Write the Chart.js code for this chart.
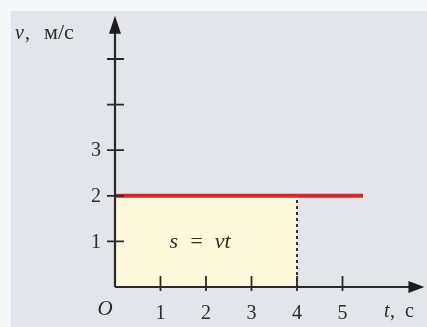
<!DOCTYPE html>
<html>
<head>
<meta charset="utf-8">
<script src="https://cdn.jsdelivr.net/npm/chart.js@4/dist/chart.umd.min.js"></script>
<style>
  html, body { margin: 0; padding: 0; background: #ffffff; }
  #wrap { width: 427px; height: 327px; position: relative; }
</style>
</head>
<body>
<div id="wrap"><canvas id="c" width="427" height="327"></canvas></div>
<script>
// Uniform motion: constant speed v = 2 m/s, distance s = v·t shaded up to t = 4 s
const speed = 2;              // м/с
const shadedUntil = 4;        // с
const lineEnd = 5.45;         // where the red speed line stops
const xTicks = [1, 2, 3, 4, 5];
const xTickLabels = ['1', '2', '3', '4', '5'];
const yTicks = [1, 2, 3, 4, 5];
const yTickLabels = ['1', '2', '3', '', ''];
const xAxisEnd = 6.8;         // arrow tip on the t axis
const yAxisEnd = 5.95;        // arrow tip on the v axis

const SERIF = '"Liberation Serif", "DejaVu Serif", serif';

const decor = {
  id: 'decor',
  beforeDraw(chart) {
    const { ctx, width, height } = chart;
    ctx.save();
    ctx.fillStyle = '#e2e6ea';
    ctx.fillRect(0, 0, width, height);
    ctx.fillStyle = '#f6f7f8';
    ctx.fillRect(0, 0, width, 11);
    ctx.fillRect(0, 0, 11, height);
    ctx.restore();
  },
  afterDatasetsDraw(chart) {
    const { ctx } = chart;
    const xs = chart.scales.x, ys = chart.scales.y;
    const x0 = xs.getPixelForValue(0), y0 = ys.getPixelForValue(0);
    const xEnd = xs.getPixelForValue(xAxisEnd), yEnd = ys.getPixelForValue(yAxisEnd);
    ctx.save();
    ctx.strokeStyle = '#2a2a2a';
    ctx.fillStyle = '#1e1e1e';
    ctx.lineWidth = 2.2;
    // axes
    ctx.beginPath();
    ctx.moveTo(x0, y0); ctx.lineTo(xEnd - 12, y0);
    ctx.moveTo(x0, y0); ctx.lineTo(x0, yEnd + 14);
    ctx.stroke();
    // arrow heads
    ctx.beginPath();
    ctx.moveTo(xEnd, y0); ctx.lineTo(xEnd - 16, y0 - 6); ctx.lineTo(xEnd - 16, y0 + 6); ctx.closePath();
    ctx.fill();
    ctx.beginPath();
    ctx.moveTo(x0, yEnd); ctx.lineTo(x0 - 6, yEnd + 18); ctx.lineTo(x0 + 6, yEnd + 18); ctx.closePath();
    ctx.fill();
    // ticks crossing the axes
    ctx.lineWidth = 1.8;
    ctx.beginPath();
    xTicks.forEach(v => {
      const px = xs.getPixelForValue(v);
      ctx.moveTo(px, y0 - 11); ctx.lineTo(px, y0 + 4);
    });
    yTicks.forEach(v => {
      const py = ys.getPixelForValue(v);
      ctx.moveTo(x0 - 8, py); ctx.lineTo(x0 + 9, py);
    });
    ctx.stroke();
    // tick labels
    ctx.fillStyle = '#2b2b2b';
    ctx.font = '20px ' + SERIF;
    ctx.textAlign = 'center';
    ctx.textBaseline = 'alphabetic';
    xTicks.forEach((v, i) => {
      ctx.fillText(xTickLabels[i], xs.getPixelForValue(v), y0 + 32);
    });
    ctx.textAlign = 'right';
    ctx.textBaseline = 'middle';
    yTicks.forEach((v, i) => {
      if (yTickLabels[i]) ctx.fillText(yTickLabels[i], x0 - 14, ys.getPixelForValue(v) + 1);
    });
    // origin and axis titles
    ctx.font = 'italic 21px ' + SERIF;
    ctx.textAlign = 'center';
    ctx.textBaseline = 'alphabetic';
    ctx.fillText('O', x0 - 10, y0 + 28);
    ctx.textAlign = 'left';
    ctx.font = 'italic 20px ' + SERIF;
    ctx.fillText('v', 15, 39);
    ctx.font = '20px ' + SERIF;
    ctx.fillText(',', 25, 39);
    ctx.font = '22px ' + SERIF;
    ctx.fillText('м/с', 44, 39);
    ctx.font = 'italic 20px ' + SERIF;
    ctx.fillText('t', 384, y0 + 30);
    ctx.font = '20px ' + SERIF;
    ctx.fillText(',  c', 390, y0 + 30);
    // formula inside the shaded area
    ctx.font = 'italic 22px ' + SERIF;
    ctx.textAlign = 'center';
    ctx.textBaseline = 'middle';
    ctx.fillText('s  =  vt', xs.getPixelForValue(1.87), ys.getPixelForValue(1) + 1);
    ctx.restore();
  }
};

new Chart(document.getElementById('c'), {
  type: 'scatter',
  data: {
    datasets: [
      {
        // area under the speed line: s = v·t
        type: 'line',
        data: [{ x: 0, y: speed }, { x: shadedUntil, y: speed }],
        borderWidth: 0,
        pointRadius: 0,
        backgroundColor: '#fdf9dc',
        fill: 'origin',
        order: 3
      },
      {
        // dashed marker at t = 4 s
        type: 'line',
        data: [{ x: shadedUntil, y: 0 }, { x: shadedUntil, y: speed }],
        borderColor: '#333333',
        borderWidth: 2,
        borderDash: [3, 3],
        pointRadius: 0,
        fill: false,
        order: 2
      },
      {
        // the speed v(t) = 2 м/с
        type: 'line',
        data: [{ x: 0, y: speed }, { x: lineEnd, y: speed }],
        borderColor: '#d8262b',
        borderWidth: 4,
        pointRadius: 0,
        fill: false,
        order: 1
      }
    ]
  },
  options: {
    responsive: false,
    animation: false,
    layout: { padding: 0 },
    plugins: { legend: { display: false }, tooltip: { enabled: false } },
    scales: {
      x: { type: 'linear', display: false, min: -2.527, max: 6.857 },
      y: { type: 'linear', display: false, min: -0.877, max: 6.294 }
    }
  },
  plugins: [decor]
});
</script>
</body>
</html>
